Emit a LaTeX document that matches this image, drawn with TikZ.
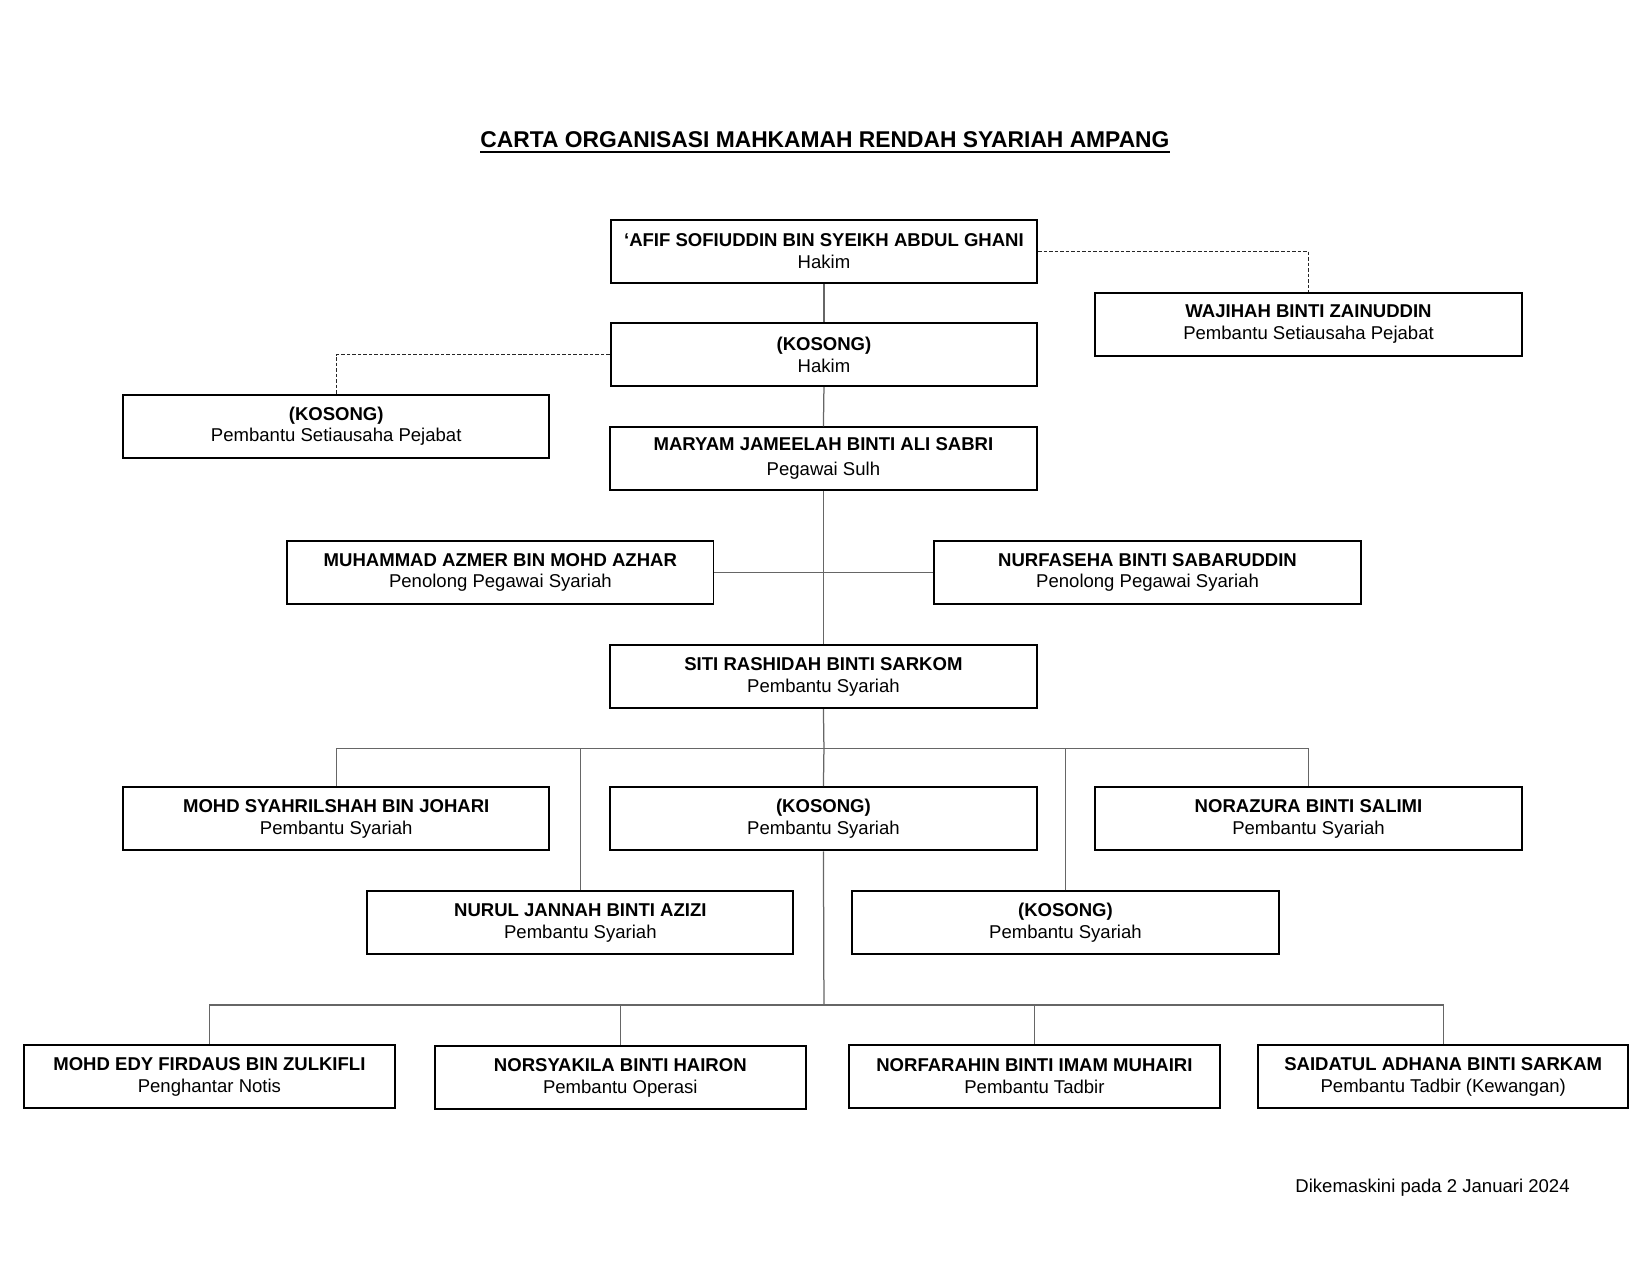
\documentclass[tikz,border=0pt]{standalone}
\usepackage{fontspec}
\setmainfont{Liberation Sans}
\begin{document}
\begin{tikzpicture}[x=0.5051pt,y=-0.5051pt,
  box/.style={draw=black, line width=0.95pt, fill=white, minimum width=204.6pt, minimum height=30.3pt,
    inner sep=0pt, align=center, font=\fontsize{8.9}{10.5}\selectfont},
  smallbox/.style={box, minimum width=177.8pt},
  conn/.style={draw=black!60, line width=0.6pt},
  dashconn/.style={draw=black!85, line width=0.6pt, dash pattern=on 1.7pt off 0.95pt}]
\useasboundingbox (0,0) rectangle (1568,1211.6);
\node[font=\fontsize{10.95}{12.6}\selectfont\bfseries, anchor=base, inner sep=0pt] (title) at (784,140)
  {CARTA ORGANISASI MAHKAMAH RENDAH SYARIAH AMPANG};
\draw[line width=0.9pt] ([yshift=-2.2pt]title.base west) -- ([yshift=-2.2pt]title.base east);

\node[box] (b1) at (783,239) {\textbf{‘AFIF SOFIUDDIN BIN SYEIKH ABDUL GHANI}\\Hakim};
\node[box] (wajihah) at (1243.5,308) {\textbf{WAJIHAH BINTI ZAINUDDIN}\\Pembantu Setiausaha Pejabat};
\node[box] (b2) at (783,337) {\textbf{(KOSONG)}\\Hakim};
\node[box, font=\fontsize{8.9}{9.7}\selectfont] (psp) at (319.5,405) {\textbf{(KOSONG)}\\Pembantu Setiausaha Pejabat};
\node[box, font=\fontsize{8.9}{12.1}\selectfont] (maryam) at (782.5,436) {\textbf{MARYAM JAMEELAH BINTI ALI SABRI}\\Pegawai Sulh};
\node[box] (azmer) at (475.5,544) {\textbf{MUHAMMAD AZMER BIN MOHD AZHAR}\\Penolong Pegawai Syariah};
\node[box] (nurfaseha) at (1090.5,544) {\textbf{NURFASEHA BINTI SABARUDDIN}\\Penolong Pegawai Syariah};
\node[box] (siti) at (782.5,643) {\textbf{SITI RASHIDAH BINTI SARKOM}\\Pembantu Syariah};
\node[box] (syahril) at (319.5,778) {\textbf{MOHD SYAHRILSHAH BIN JOHARI}\\Pembantu Syariah};
\node[box] (kos1) at (782.5,778) {\textbf{(KOSONG)}\\Pembantu Syariah};
\node[box] (norazura) at (1243.5,778) {\textbf{NORAZURA BINTI SALIMI}\\Pembantu Syariah};
\node[box] (nurul) at (551.5,877) {\textbf{NURUL JANNAH BINTI AZIZI}\\Pembantu Syariah};
\node[box] (kos2) at (1012.5,877) {\textbf{(KOSONG)}\\Pembantu Syariah};
\node[smallbox] (edy) at (199,1023) {\textbf{MOHD EDY FIRDAUS BIN ZULKIFLI}\\Penghantar Notis};
\node[smallbox] (norsyakila) at (589.5,1024) {\textbf{NORSYAKILA BINTI HAIRON}\\Pembantu Operasi};
\node[smallbox] (norfarahin) at (983,1023) {\textbf{NORFARAHIN BINTI IMAM MUHAIRI}\\Pembantu Tadbir};
\node[smallbox] (saidatul) at (1371.5,1023) {\textbf{SAIDATUL ADHANA BINTI SARKAM}\\Pembantu Tadbir (Kewangan)};

\node[anchor=base east, inner sep=0pt, font=\fontsize{8.9}{10.5}\selectfont] (footer) at (1492,1133) {Dikemaskini pada 2 Januari 2024};

\coordinate (bus1) at (783,711);
\coordinate (bus2) at (783,955);

\draw[conn] (b1.south) -- (b2.north);
\draw[conn] (b2.south) -- (maryam.north);
\draw[conn] (maryam.south) -- (siti.north);
\draw[conn] (azmer.east) -- (nurfaseha.west);
\draw[dashconn] (b1.east) -| (wajihah.north);
\draw[dashconn] (b2.west) -| (psp.north);

\draw[conn] (siti.south) -- (bus1);
\draw[conn] (syahril.north) |- (bus1) -| (norazura.north);
\draw[conn] (bus1) -- (kos1.north);
\draw[conn] (nurul.north) -- (nurul.north |- bus1);
\draw[conn] (kos2.north) -- (kos2.north |- bus1);

\draw[conn] (kos1.south) -- (bus2);
\draw[conn] (edy.north) |- (bus2) -| (saidatul.north);
\draw[conn] (norsyakila.north) -- (norsyakila.north |- bus2);
\draw[conn] (norfarahin.north) -- (norfarahin.north |- bus2);
\end{tikzpicture}
\end{document}
